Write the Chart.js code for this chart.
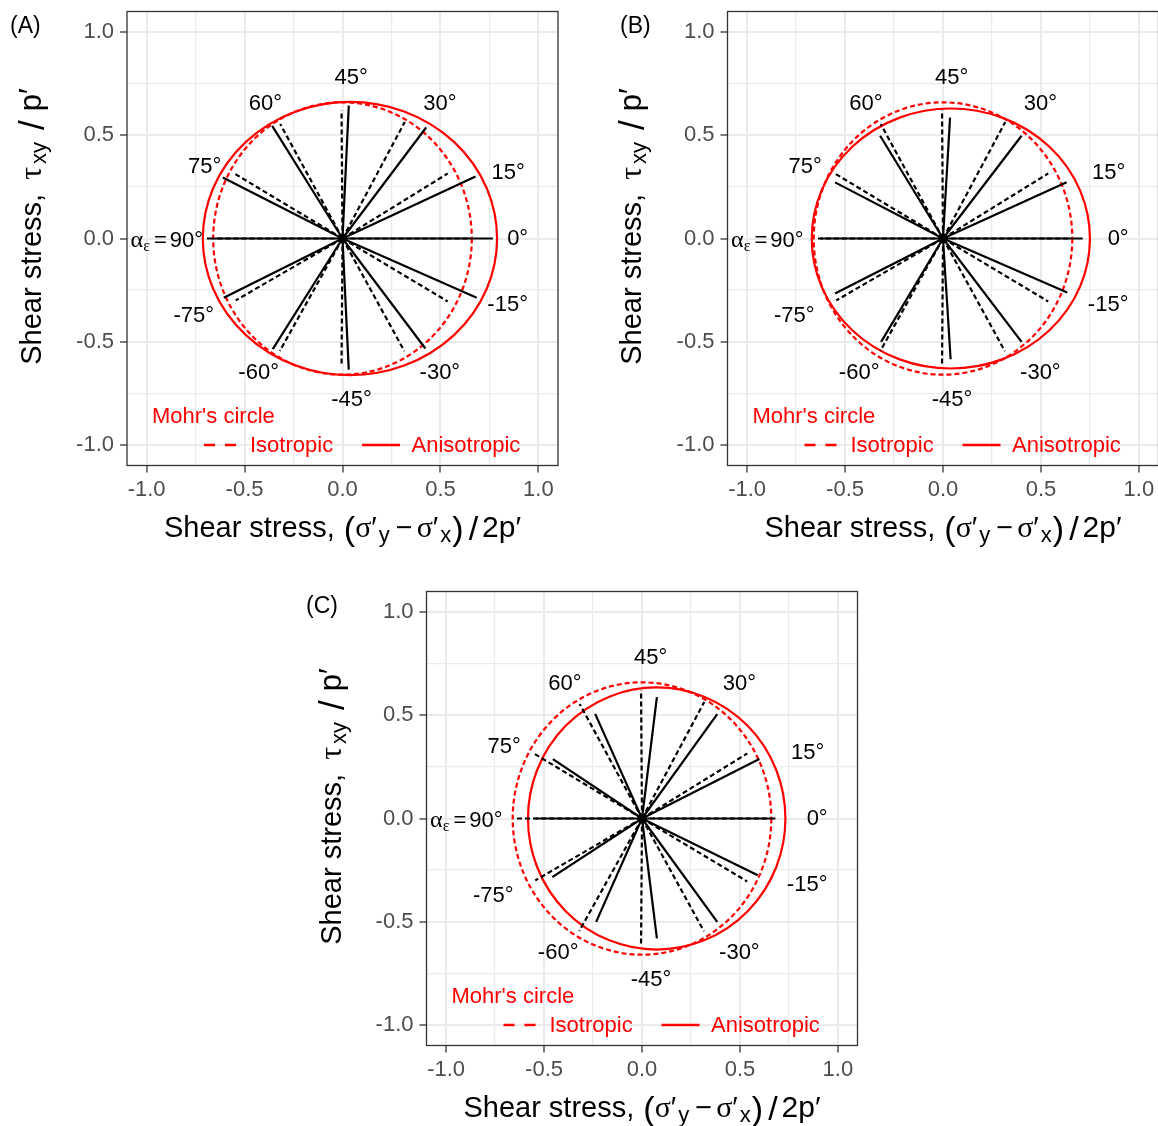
<!DOCTYPE html>
<html><head><meta charset="utf-8">
<script src="https://cdn.jsdelivr.net/npm/chart.js@4.4.1/dist/chart.umd.min.js"></script>
<style>
html,body{margin:0;padding:0;background:#fff;overflow:hidden;width:1158px;height:1126px;position:relative;}
canvas{position:absolute;}
</style></head><body>
<canvas id="cA" width="570" height="560" style="left:0px;top:0px;width:570px;height:560px"></canvas>
<canvas id="cB" width="570" height="560" style="left:600px;top:0px;width:570px;height:560px"></canvas>
<canvas id="cC" width="570" height="560" style="left:300px;top:580px;width:570px;height:560px"></canvas>
<script>
// ---------------- data ----------------
const anglesDeg   = [0, 15, 30, 45, 60, 75, 90, -15, -30, -45, -60, -75];
const angleLabels = ['0°','15°','30°','45°','60°','75°','90°','-15°','-30°','-45°','-60°','-75°'];
// label anchor positions (data units), shared by all panels
const labelX = [0.894, 0.845, 0.497, 0.044, -0.394, -0.704, -0.712, 0.843, 0.497, 0.046, -0.428, -0.759];
const labelY = [0, 0.318, 0.651, 0.780, 0.651, 0.346, 0, -0.320, -0.650, -0.782, -0.650, -0.375];

// isotropic (dashed) line end points, shared by all panels
const isoEndX = [0.645, 0.537, 0.318, -0.005, -0.318, -0.552, -0.645, 0.537, 0.316, -0.005, -0.320, -0.545];
const isoEndY = [0, 0.315, 0.565, 0.622, 0.555, 0.315, 0, -0.305, -0.546, -0.616, -0.545, -0.300];

// anisotropic (solid) line end points per panel
const anisoEndX_A = [0.767, 0.679, 0.427, 0.032, -0.359, -0.611, -0.692, 0.685, 0.423, 0.032, -0.356, -0.606];
const anisoEndY_A = [0, 0.301, 0.538, 0.644, 0.546, 0.296, 0, -0.287, -0.533, -0.636, -0.536, -0.287];
const anisoEndX_B = [0.713, 0.631, 0.401, 0.036, -0.321, -0.551, -0.628, 0.634, 0.401, 0.039, -0.316, -0.551];
const anisoEndY_B = [0, 0.272, 0.498, 0.586, 0.498, 0.272, 0, -0.262, -0.501, -0.585, -0.501, -0.267];
const anisoEndX_C = [0.681, 0.599, 0.384, 0.076, -0.239, -0.455, -0.548, 0.591, 0.384, 0.076, -0.234, -0.458];
const anisoEndY_C = [0, 0.288, 0.506, 0.588, 0.507, 0.288, 0, -0.275, -0.501, -0.581, -0.501, -0.284];

// Mohr's circles: [centre x, centre y, radius x, radius y]
const isoCircle    = [0, 0, 0.66, 0.66];
const anisoCircleA = [0.038, 0, 0.751, 0.662];
const anisoCircleB = [0.040, 0, 0.710, 0.630];
const anisoCircleC = [0.075, 0, 0.657, 0.635];

// axis ticks
const gridValues = [-1, -0.75, -0.5, -0.25, 0, 0.25, 0.5, 0.75, 1];
const tickValues = [-1, -0.5, 0, 0.5, 1];
const tickLabels = ['-1.0', '-0.5', '0.0', '0.5', '1.0'];
const axisMin = -1.1, axisMax = 1.1;

// ---------------- helpers ----------------
const SANS = "'Liberation Sans', Arial, sans-serif";
const SERIF = "'Liberation Serif', 'DejaVu Serif', serif";
const RED = '#FF0000';

function drawRich(ctx, segs, x, y, align) {
  let w = 0;
  segs.forEach(s => { ctx.font = s.f; s.w = ctx.measureText(s.t).width + (s.sp || 0) + (s.pre || 0); w += s.w; });
  let cx = align === 'center' ? x - w / 2 : (align === 'right' ? x - w : x);
  ctx.textAlign = 'left';
  ctx.textBaseline = 'alphabetic';
  segs.forEach(s => { ctx.font = s.f; ctx.fillText(s.t, cx + (s.pre || 0), y + (s.dy || 0)); cx += s.w; });
}
function xTitleSegs() {
  return [
    {t: 'Shear stress, ', f: `29px ${SANS}`, sp: 1},
    {t: '(', f: `34px ${SANS}`, dy: 3},
    {t: 'σ', f: `30px ${SERIF}`},
    {t: '′', f: `29px ${SANS}`, sp: 2},
    {t: 'y', f: `22px ${SANS}`, dy: 5, sp: 6},
    {t: '−', f: `29px ${SANS}`, sp: 4},
    {t: 'σ', f: `30px ${SERIF}`},
    {t: '′', f: `29px ${SANS}`, sp: 2},
    {t: 'x', f: `22px ${SANS}`, dy: 5, sp: 1},
    {t: ')', f: `34px ${SANS}`, dy: 3, sp: 5},
    {t: '/', f: `34px ${SANS}`, dy: 3, sp: 4},
    {t: '2p′', f: `30px ${SANS}`}
  ];
}
function yTitleSegs() {
  return [
    {t: 'Shear stress, ', f: `29px ${SANS}`, sp: 6},
    {t: 'τ', f: `32px ${SERIF}`, sp: 3},
    {t: 'xy', f: `22px ${SANS}`, dy: 5, sp: 12},
    {t: '/', f: `35px ${SANS}`, dy: 3, sp: 9},
    {t: 'p′', f: `31px ${SANS}`}
  ];
}

function makeChart(id, aniX, aniY, aniCircle, panelText, yAxisWidth, panelTextX) {
  const datasets = [];
  for (let i = 0; i < anglesDeg.length; i++) {
    datasets.push({data: [{x: 0, y: 0}, {x: aniX[i], y: aniY[i]}], showLine: true,
      borderColor: '#000', borderWidth: 2.2, pointRadius: 0, fill: false});
  }
  for (let i = 0; i < anglesDeg.length; i++) {
    datasets.push({data: [{x: 0, y: 0}, {x: isoEndX[i], y: isoEndY[i]}], showLine: true,
      borderColor: '#000', borderWidth: 2.2, borderDash: [5, 3], pointRadius: 0, fill: false});
  }

  const gridOpts = {
    color: '#EBEBEB',
    lineWidth: c => (c.tick && tickValues.includes(c.tick.value)) ? 2 : 1.2,
    drawTicks: true, tickLength: 7, tickWidth: 1.3,
    tickColor: c => (c.tick && tickValues.includes(c.tick.value)) ? '#333333' : 'rgba(0,0,0,0)'
  };
  const tickOpts = {
    color: '#4D4D4D', font: {family: SANS, size: 22}, autoSkip: false, maxRotation: 0,
    callback: v => { const k = tickValues.indexOf(v); return k >= 0 ? tickLabels[k] : ''; }
  };

  const deco = {
    id: 'deco' + id,
    beforeDatasetsDraw(chart) {
      const ctx = chart.ctx, xs = chart.scales.x, ys = chart.scales.y, a = chart.chartArea;
      ctx.save();
      ctx.beginPath(); ctx.rect(a.left, a.top, a.right - a.left, a.bottom - a.top); ctx.clip();
      const circ = (c, dash) => {
        const px = xs.getPixelForValue(c[0]), py = ys.getPixelForValue(c[1]);
        const rx = Math.abs(xs.getPixelForValue(c[0] + c[2]) - px);
        const ry = Math.abs(ys.getPixelForValue(c[1] + c[3]) - py);
        ctx.setLineDash(dash); ctx.strokeStyle = RED; ctx.lineWidth = 2.2;
        ctx.beginPath(); ctx.ellipse(px, py, rx, ry, 0, 0, Math.PI * 2); ctx.stroke();
      };
      circ(isoCircle, [5, 3]);
      circ(aniCircle, []);
      ctx.restore();
    },
    afterDatasetsDraw(chart) {
      const ctx = chart.ctx, xs = chart.scales.x, ys = chart.scales.y, a = chart.chartArea;
      ctx.save();
      ctx.fillStyle = '#000';
      for (let i = 0; i < anglesDeg.length; i++) {
        const px = xs.getPixelForValue(labelX[i]), py = ys.getPixelForValue(labelY[i]);
        if (anglesDeg[i] === 90) {
          drawRich(ctx, [
            {t: 'α', f: `24px ${SERIF}`},
            {t: 'ε', f: `16px ${SERIF}`, dy: 4, sp: 4},
            {t: '=', f: `22px ${SANS}`, sp: 3},
            {t: angleLabels[i], f: `22px ${SANS}`}
          ], px, py + 8, 'right');
        } else {
          ctx.font = `22px ${SANS}`; ctx.textAlign = 'center'; ctx.textBaseline = 'middle';
          ctx.fillText(angleLabels[i], px, py);
        }
      }
      // legend inside panel
      ctx.fillStyle = RED; ctx.font = `22px ${SANS}`; ctx.textAlign = 'left'; ctx.textBaseline = 'middle';
      ctx.fillText("Mohr's circle", a.left + 25, a.top + 405);
      const ly = a.top + 433.5;
      ctx.strokeStyle = RED; ctx.lineWidth = 2.5;
      ctx.setLineDash([11, 10]);
      ctx.beginPath(); ctx.moveTo(a.left + 77, ly); ctx.lineTo(a.left + 110, ly); ctx.stroke();
      ctx.setLineDash([]);
      ctx.beginPath(); ctx.moveTo(a.left + 235, ly); ctx.lineTo(a.left + 273, ly); ctx.stroke();
      ctx.fillText('Isotropic', a.left + 123, ly + 1);
      ctx.fillText('Anisotropic', a.left + 284.5, ly + 1);
      ctx.restore();
    },
    afterDraw(chart) {
      const ctx = chart.ctx, a = chart.chartArea;
      ctx.save();
      ctx.strokeStyle = '#333333'; ctx.lineWidth = 1.3; ctx.setLineDash([]);
      ctx.strokeRect(a.left, a.top, a.right - a.left, a.bottom - a.top);
      ctx.fillStyle = '#000';
      // x title
      drawRich(ctx, xTitleSegs(), (a.left + a.right) / 2, 537, 'center');
      // y title
      ctx.translate(41, (a.top + a.bottom) / 2 - 12);
      ctx.rotate(-Math.PI / 2);
      drawRich(ctx, yTitleSegs(), 0, 0, 'center');
      ctx.restore();
      ctx.save();
      ctx.fillStyle = '#000'; ctx.font = `23px ${SANS}`; ctx.textAlign = 'left'; ctx.textBaseline = 'alphabetic';
      ctx.fillText(panelText, panelTextX, 33);
      ctx.restore();
    }
  };

  return new Chart(document.getElementById(id), {
    type: 'scatter',
    data: {datasets},
    options: {
      responsive: false, animation: false, devicePixelRatio: 1,
      layout: {padding: {left: 0, top: 11.5, right: 570 - yAxisWidth - 431, bottom: 0}},
      plugins: {legend: {display: false}, tooltip: {enabled: false}},
      elements: {line: {tension: 0}},
      scales: {
        x: {type: 'linear', min: axisMin, max: axisMax,
          afterBuildTicks: s => { s.ticks = gridValues.map(v => ({value: v})); },
          afterFit: s => { s.height = 560 - 465.5; s.paddingLeft = 0; s.paddingRight = 0; },
          grid: gridOpts, border: {display: false},
          ticks: Object.assign({padding: 4}, tickOpts)},
        y: {type: 'linear', min: axisMin, max: axisMax,
          afterBuildTicks: s => { s.ticks = gridValues.map(v => ({value: v})); },
          afterFit: s => { s.width = yAxisWidth; s.paddingTop = 0; s.paddingBottom = 0; },
          grid: gridOpts, border: {display: false},
          ticks: Object.assign({padding: 6}, tickOpts)}
      }
    },
    plugins: [deco]
  });
}

makeChart('cA', anisoEndX_A, anisoEndY_A, anisoCircleA, '(A)', 127, 10);
makeChart('cB', anisoEndX_B, anisoEndY_B, anisoCircleB, '(B)', 127.5, 20);
makeChart('cC', anisoEndX_C, anisoEndY_C, anisoCircleC, '(C)', 126.5, 6);
</script>
</body></html>
